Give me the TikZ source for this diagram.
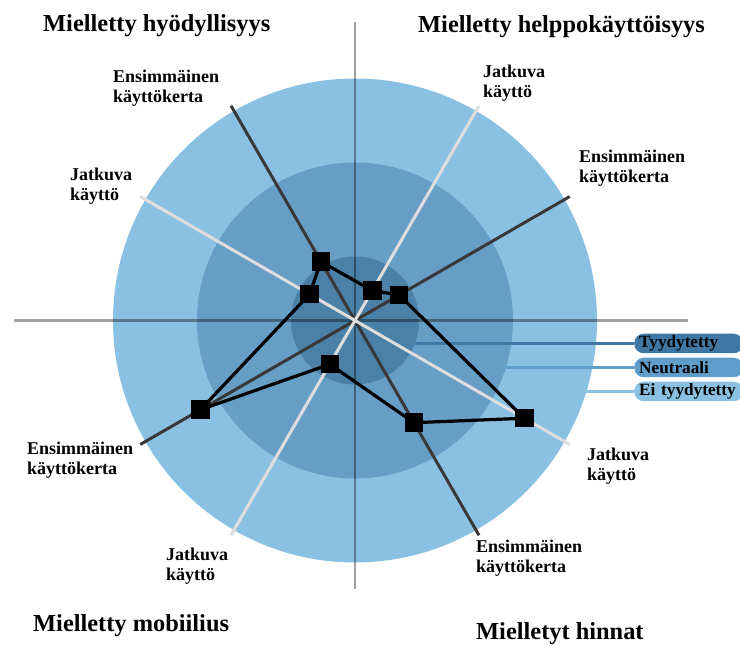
\documentclass[tikz,border=0pt]{standalone}
\usepackage{fontspec}
\setmainfont{Liberation Serif}
\usetikzlibrary{calc}
\definecolor{ringout}{HTML}{8AC1E3}
\definecolor{ringmid}{HTML}{679EC5}
\definecolor{ringin}{HTML}{4B80A7}
\definecolor{pilldark}{HTML}{3F78A4}
\definecolor{pillmid}{HTML}{5F9DCA}
\definecolor{pilllight}{HTML}{8AC1E3}
\definecolor{spokedark}{HTML}{383838}
\definecolor{spokelight}{HTML}{DEDEDE}
\begin{document}
\begin{tikzpicture}[x=1pt,y=1pt,
  title/.style={font=\fontsize{24.4}{26}\selectfont\bfseries, inner sep=0pt, anchor=base west},
  spokelabel/.style={font=\fontsize{18}{19.5}\selectfont\bfseries, inner sep=0pt, anchor=north west, align=left},
  axisline/.style={draw=black, draw opacity=0.37, line width=2.6pt},
  firstuse/.style={draw=spokedark, line width=3pt},
  ongoing/.style={draw=spokelight, line width=3pt},
  profile/.style={draw=black, line width=3.2pt, line join=miter},
  marker/.style={rectangle, fill=black, minimum size=18.5pt, inner sep=0pt},
  pill/.style={rectangle, rounded corners=9.5pt, anchor=west, minimum height=19.5pt,
    text width=99pt, inner xsep=5pt, inner ysep=0pt, align=left,
    font=\fontsize{17.2}{18}\selectfont\bfseries},
  legendline/.style={line width=3pt}
]
\path[use as bounding box] (0,0) rectangle (740,646);

\coordinate (c) at (355,325.5);

% satisfaction rings
\fill[ringout] (c) circle[radius=242pt];
\fill[ringmid] (c) circle[radius=158pt];
\fill[ringin]  (c) circle[radius=64pt];

% quadrant axes
\coordinate (axL) at (14,325.5);
\coordinate (axR) at (688,325.5);
\coordinate (axT) at (355,624);
\coordinate (axB) at (355,57);
\draw[axisline] (axL) -- (axR);
\draw[axisline] (axT) -- (axB);

% spokes: first use (dark) and continued use (light)
\foreach \a in {30,60,120,150,210,240,300,330}
  \coordinate (s\a) at ($(c)+(\a:248)$);
\draw[firstuse] (s120) -- (s300);
\draw[firstuse] (s30) -- (s210);
\draw[ongoing] (s150) -- (s330);
\draw[ongoing] (s60) -- (s240);

% legend
\node[pill, fill=pilldark]  (tyy) at (634,302.5) {Tyydytetty};
\node[pill, fill=pillmid]   (neu) at (634,278.5) {Neutraali};
\node[pill, fill=pilllight] (eit) at (634,254.5) {Ei\ tyydytetty};
\coordinate (tyys) at (415,302.5);
\coordinate (neus) at (506,278.5);
\coordinate (eits) at (586,254.5);
\draw[legendline, pilldark] (tyys) -- (tyy.west);
\draw[legendline, pillmid] (neus) -- (neu.west);
\draw[legendline, pilllight] (eits) -- (eit.west);

% measured profile
\coordinate (p120) at ($(c)+(120:68)$);
\coordinate (p60)  at ($(c)+(60:34.5)$);
\coordinate (p30)  at ($(c)+(30:51)$);
\coordinate (p330) at ($(c)+(330:195.5)$);
\coordinate (p300) at ($(c)+(300:118)$);
\coordinate (p240) at ($(c)+(240:50.5)$);
\coordinate (p210) at ($(c)+(210:178.5)$);
\coordinate (p150) at ($(c)+(150:52.5)$);
\draw[profile] (p120) -- (p60) -- (p30) -- (p330) -- (p300) -- (p240) -- (p210) -- (p150) -- cycle;
\foreach \a in {120,60,30,330,300,240,210,150}
  \node[marker] (m\a) at (p\a) {};

% quadrant titles
\node[title] (t1) at (43,614.5) {Mielletty hyödyllisyys};
\node[title] (t2) at (418,613) {Mielletty helppokäyttöisyys};
\node[title] (t3) at (33,14) {Mielletty mobiilius};
\node[title] (t4) at (476,6) {Mielletyt hinnat};

% spoke labels
\node[spokelabel] (l1) at (113,576) {Ensimmäinen\\käyttökerta};
\node[spokelabel] (l2) at (483,581) {Jatkuva\\käyttö};
\node[spokelabel] (l3) at (579,496) {Ensimmäinen\\käyttökerta};
\node[spokelabel] (l4) at (70,478) {Jatkuva\\käyttö};
\node[spokelabel] (l5) at (27,204) {Ensimmäinen\\käyttökerta};
\node[spokelabel] (l6) at (166,98) {Jatkuva\\käyttö};
\node[spokelabel] (l7) at (587,198) {Jatkuva\\käyttö};
\node[spokelabel] (l8) at (476,106) {Ensimmäinen\\käyttökerta};
\end{tikzpicture}
\end{document}
